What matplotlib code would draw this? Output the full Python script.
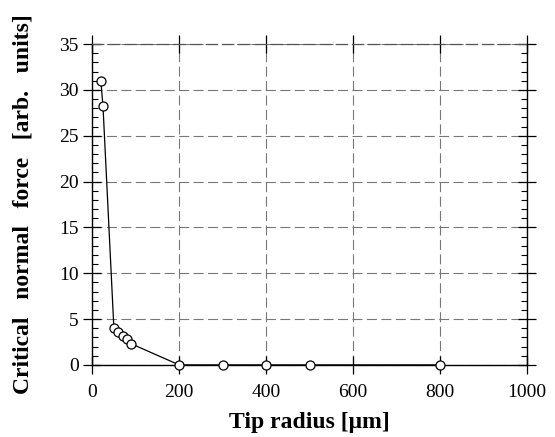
import numpy as np
import matplotlib.pyplot as plt
from matplotlib.ticker import MultipleLocator

# Critical normal force vs tip radius
tip_radius = [20, 25, 50, 60, 70, 80, 90, 200, 300, 400, 500, 800]
critical_force = [31.0, 28.2, 4.0, 3.6, 3.2, 2.8, 2.3, 0.0, 0.0, 0.0, 0.0, 0.0]

x_ticks = [0, 200, 400, 600, 800, 1000]
y_ticks = [0, 5, 10, 15, 20, 25, 30, 35]

plt.rcParams['font.family'] = ['Liberation Serif', 'DejaVu Serif']

fig = plt.figure(figsize=(5.55, 4.37), dpi=100)
ax = fig.add_axes([0.166, 0.165, 0.784, 0.734])

ax.plot(tip_radius, critical_force, color='black', linewidth=0.9,
        marker='o', markersize=6.5, markerfacecolor='white',
        markeredgecolor='black', markeredgewidth=0.9, zorder=3, clip_on=False)

ax.set_xlim(0, 1000)
ax.set_ylim(0, 35)
ax.set_xticks(x_ticks)
ax.set_yticks(y_ticks)
ax.yaxis.set_minor_locator(MultipleLocator(1))

ax.grid(True, which='major', linestyle=(0, (9, 4)), color='#777777', linewidth=0.8)

for side in ['left', 'bottom', 'right']:
    ax.spines[side].set_linewidth(1.0)
ax.spines['top'].set_linestyle((0, (9, 4)))
ax.spines['top'].set_color('#555555')
ax.spines['top'].set_linewidth(0.9)

ax.tick_params(which='major', direction='inout', length=13, width=0.9,
               top=True, right=True, labelsize=14)
ax.tick_params(axis='x', which='major', pad=7)
ax.tick_params(axis='y', which='major', pad=3)
ax.tick_params(which='minor', direction='in', length=4, width=0.8,
               left=True, right=True)

ax.set_xlabel('Tip radius [\u03bcm]', fontsize=17, fontweight='bold')
ax.set_ylabel('Critical   normal   force   [arb.   units]', fontsize=17,
              fontweight='bold')
ax.xaxis.set_label_coords(0.5, -0.148)
ax.yaxis.set_label_coords(-0.135, 0.5)

fig.savefig('out.png', dpi=100)
